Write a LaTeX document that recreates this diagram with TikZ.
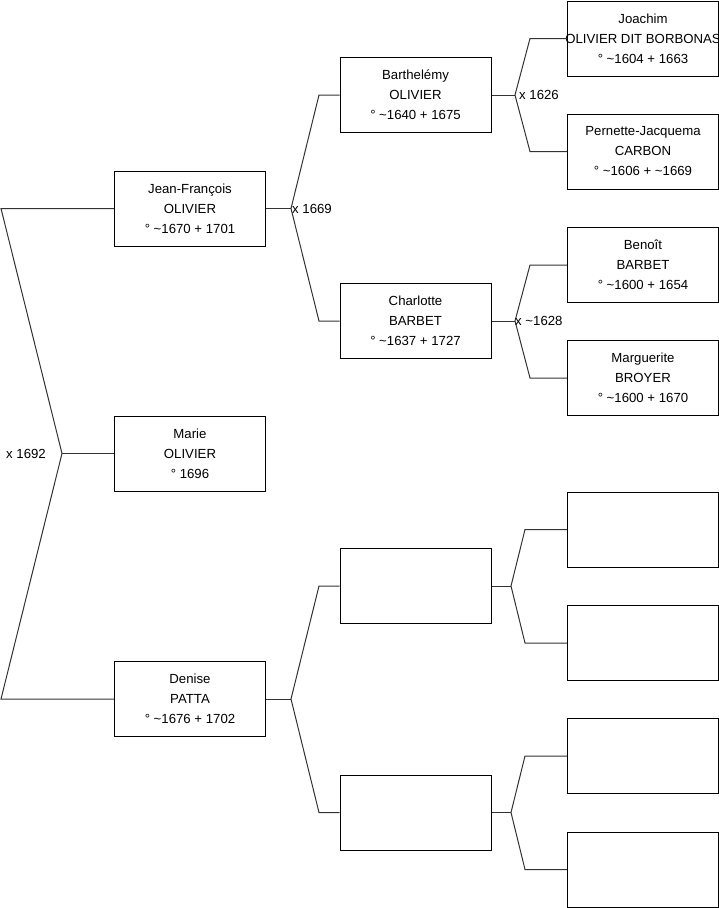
\documentclass[tikz,border=0pt]{standalone}
\usepackage{fontspec}
\setmainfont{Liberation Sans}
\usetikzlibrary{positioning}
\tikzset{
    person/.style={draw, line width=1pt, minimum width=151pt, minimum height=75pt,
        inner sep=0pt, align=center, font=\fontsize{13.2}{20}\selectfont},
    link/.style={draw=black!80, line width=1pt},
    wedlbl/.style={inner sep=0pt, font=\fontsize{13.2}{15}\selectfont}
}
\newcommand{\tl}{\textasciitilde}

\begin{document}
\begin{tikzpicture}[x=1pt, y=-1pt]
\useasboundingbox (0,0) rectangle (719,908);
\node[person] (jf) at (190,208.5) {Jean-François\\OLIVIER\\° \tl1670 + 1701};
\node[person] (marie) at (190,453.5) {Marie\\OLIVIER\\° 1696};
\node[person] (denise) at (190,699) {Denise\\PATTA\\° \tl1676 + 1702};
\node[person] (bart) at (415.5,95) {Barthelémy\\OLIVIER\\° \tl1640 + 1675};
\node[person] (charl) at (415.5,321) {Charlotte\\BARBET\\° \tl1637 + 1727};
\node[person] (pp) at (415.5,586) {};
\node[person] (pm) at (415.5,812.5) {};
\node[person] (joa) at (643,38.5) {Joachim\\\makebox[140pt]{OLIVIER DIT BORBONAS}\\° \tl1604 + 1663};
\node[person] (per) at (643,151.5) {Pernette-Jacquema\\CARBON\\° \tl1606 + \tl1669};
\node[person] (ben) at (643,265) {Benoît\\BARBET\\° \tl1600 + 1654};
\node[person] (marg) at (643,378) {Marguerite\\BROYER\\° \tl1600 + 1670};
\node[person] (ppp) at (643,529.5) {};
\node[person] (ppm) at (643,643) {};
\node[person] (pmp) at (643,756) {};
\node[person] (pmm) at (643,869.5) {};

\coordinate (v0) at (62,453.5);
\coordinate (t0) at (1,208.5);
\coordinate (b0) at (1,699);
\draw[link] (jf.west) -- (t0) -- (v0) -- (b0) -- (denise.west);
\draw[link] (v0) -- (marie.west);
\node[wedlbl, left=16pt of v0] (w0) {x 1692};

\coordinate (v1) at (291,208.5);
\coordinate (t1) at (319,95);
\coordinate (b1) at (319,321);
\draw[link] (bart.west) -- (t1) -- (v1) -- (b1) -- (charl.west);
\draw[link] (jf.east) -- (v1);
\node[wedlbl, right=1pt of v1] (w1) {x 1669};

\coordinate (v2) at (291,699);
\coordinate (t2) at (319,586);
\coordinate (b2) at (319,812.5);
\draw[link] (pp.west) -- (t2) -- (v2) -- (b2) -- (pm.west);
\draw[link] (denise.east) -- (v2);

\coordinate (v3) at (515,95);
\coordinate (t3) at (530,38.5);
\coordinate (b3) at (530,151.5);
\draw[link] (joa.west) -- (t3) -- (v3) -- (b3) -- (per.west);
\draw[link] (bart.east) -- (v3);
\node[wedlbl, right=4pt of v3] (w3) {x 1626};

\coordinate (v4) at (515,321);
\coordinate (t4) at (530,265);
\coordinate (b4) at (530,378);
\draw[link] (ben.west) -- (t4) -- (v4) -- (b4) -- (marg.west);
\draw[link] (charl.east) -- (v4);
\node[wedlbl, right=0pt of v4] (w4) {x \tl1628};

\coordinate (v5) at (511,586);
\coordinate (t5) at (525,529.5);
\coordinate (b5) at (525,643);
\draw[link] (ppp.west) -- (t5) -- (v5) -- (b5) -- (ppm.west);
\draw[link] (pp.east) -- (v5);

\coordinate (v6) at (511,812.5);
\coordinate (t6) at (525,756);
\coordinate (b6) at (525,869.5);
\draw[link] (pmp.west) -- (t6) -- (v6) -- (b6) -- (pmm.west);
\draw[link] (pm.east) -- (v6);
\end{tikzpicture}
\end{document}
